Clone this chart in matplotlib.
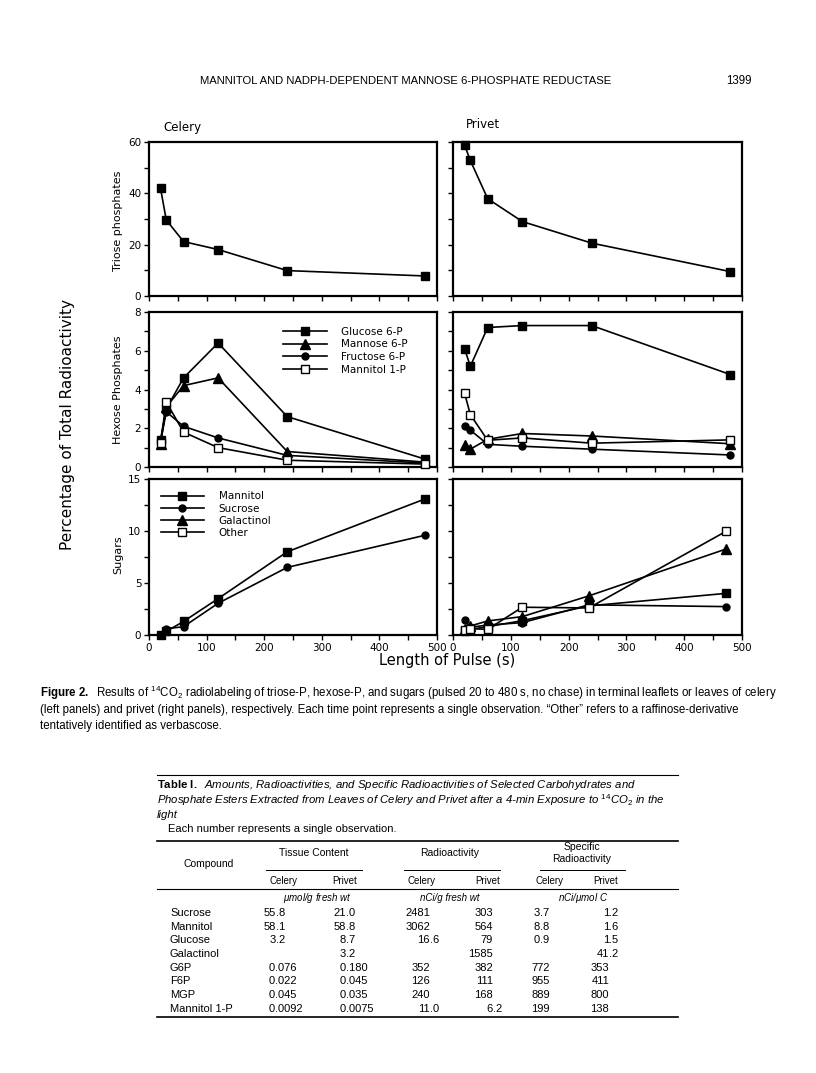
import matplotlib
matplotlib.use("Agg")
import matplotlib.pyplot as plt
from matplotlib.ticker import MultipleLocator
from matplotlib.lines import Line2D

plt.rcParams['font.family'] = ['DejaVu Sans']
plt.rcParams['mathtext.fontset'] = 'custom'
plt.rcParams['mathtext.rm'] = 'Liberation Sans'
plt.rcParams['mathtext.it'] = 'Liberation Sans:italic'
plt.rcParams['mathtext.bf'] = 'Liberation Sans:bold'

# ---- data ----
pulse = [20, 30, 60, 120, 240, 480]
pulse_privet_sugars = [20, 30, 60, 120, 235, 472]

celery_triose = [42.0, 29.6, 21.2, 18.1, 9.9, 7.8]
privet_triose = [58.8, 52.8, 37.9, 29.0, 20.6, 9.5]

celery_g6p = [1.4, 3.0, 4.6, 6.4, 2.6, 0.4]
celery_m6p = [1.2, 3.1, 4.2, 4.6, 0.8, 0.25]
celery_f6p = [1.3, 2.85, 2.1, 1.5, 0.6, 0.2]
celery_mtl1p = [1.25, 3.35, 1.8, 1.0, 0.35, 0.15]

privet_g6p = [6.1, 5.2, 7.2, 7.3, 7.3, 4.77]
privet_m6p = [1.15, 0.92, 1.43, 1.73, 1.6, 1.2]
privet_f6p = [2.1, 1.9, 1.17, 1.07, 0.92, 0.62]
privet_mtl1p = [3.82, 2.7, 1.38, 1.5, 1.23, 1.4]

celery_mannitol = [0.0, 0.35, 1.3, 3.5, 8.0, 13.1]
celery_sucrose = [0.0, 0.6, 0.8, 3.05, 6.5, 9.6]

privet_mannitol = [0.4, 0.55, 0.8, 1.38, 2.8, 4.0]
privet_sucrose = [1.45, 0.74, 0.96, 1.19, 2.9, 2.73]
privet_galactinol = [0.55, 0.87, 1.35, 1.77, 3.76, 8.26]
privet_other = [0.5, 0.6, 0.55, 2.67, 2.6, 9.96]

hexose_labels = ["Glucose 6-P", "Mannose 6-P", "Fructose 6-P", "Mannitol 1-P"]
sugar_labels = ["Mannitol", "Sucrose", "Galactinol", "Other"]

# table
compounds = ["Sucrose", "Mannitol", "Glucose", "Galactinol", "G6P", "F6P", "MGP", "Mannitol 1-P"]
tissue_celery = ["55.8", "58.1", "3.2", "", "0.076", "0.022", "0.045", "0.0092"]
tissue_privet = ["21.0", "58.8", "8.7", "3.2", "0.180", "0.045", "0.035", "0.0075"]
radio_celery = ["2481", "3062", "16.6", "", "352", "126", "240", "11.0"]
radio_privet = ["303", "564", "79", "1585", "382", "111", "168", "6.2"]
spec_celery = ["3.7", "8.8", "0.9", "", "772", "955", "889", "199"]
spec_privet = ["1.2", "1.6", "1.5", "41.2", "353", "411", "800", "138"]

W, H = 816, 1073
fig = plt.figure(figsize=(W / 100, H / 100), dpi=100)


def fx(x):
    return x / W


def fy(y):
    return 1 - y / H


def make_ax(x0, x1, y0, y1):
    return fig.add_axes([fx(x0), fy(y1), (x1 - x0) / W, (y1 - y0) / H])


sty = {
    's': dict(marker='s', ms=5.5, mfc='k'),
    '^': dict(marker='^', ms=6.5, mfc='k'),
    'o': dict(marker='o', ms=5.0, mfc='k'),
    'os': dict(marker='s', ms=5.5, mfc='white'),
}


def series(ax, x, y, key, z=3):
    ax.plot(x, y, color='k', lw=1.2, mec='k', mew=1.0, clip_on=False, zorder=z, **sty[key])


def setup(ax, ymax, major, minor, show_x, show_y):
    ax.set_xlim(0, 500)
    ax.set_ylim(0, ymax)
    ax.xaxis.set_major_locator(MultipleLocator(100))
    ax.xaxis.set_minor_locator(MultipleLocator(50))
    ax.yaxis.set_major_locator(MultipleLocator(major))
    ax.yaxis.set_minor_locator(MultipleLocator(minor))
    for s in ax.spines.values():
        s.set_linewidth(1.6)
    ax.tick_params(which='both', direction='out', length=3.5, width=1.0, labelsize=7.5,
                   labelbottom=show_x, labelleft=show_y, pad=2)


cols = [(149, 437), (453, 742)]
rows = [(142, 296), (312, 467), (479, 635)]

axL = [make_ax(cols[0][0], cols[0][1], r[0], r[1]) for r in rows]
axR = [make_ax(cols[1][0], cols[1][1], r[0], r[1]) for r in rows]

setup(axL[0], 60, 20, 10, False, True)
setup(axR[0], 60, 20, 10, False, False)
setup(axL[1], 8, 2, 1, False, True)
setup(axR[1], 8, 2, 1, False, False)
setup(axL[2], 15, 5, 2.5, True, True)
setup(axR[2], 15, 5, 2.5, True, False)

# triose
series(axL[0], pulse, celery_triose, 's')
series(axR[0], pulse, privet_triose, 's')

# hexose
series(axL[1], pulse, celery_g6p, 's')
series(axL[1], pulse, celery_m6p, '^')
series(axL[1], pulse, celery_f6p, 'o')
series(axL[1], pulse, celery_mtl1p, 'os', z=4)
series(axR[1], pulse, privet_g6p, 's')
series(axR[1], pulse, privet_m6p, '^')
series(axR[1], pulse, privet_f6p, 'o')
series(axR[1], pulse, privet_mtl1p, 'os', z=4)

# sugars
series(axL[2], pulse, celery_mannitol, 's')
series(axL[2], pulse, celery_sucrose, 'o')
series(axR[2], pulse_privet_sugars, privet_mannitol, 's')
series(axR[2], pulse_privet_sugars, privet_sucrose, 'o')
series(axR[2], pulse_privet_sugars, privet_galactinol, '^')
series(axR[2], pulse_privet_sugars, privet_other, 'os', z=4)


def handles(keys):
    return [Line2D([], [], color='k', lw=1.2, mec='k', mew=1.0, **sty[k]) for k in keys]


axL[1].legend(handles(['s', '^', 'o', 'os']), hexose_labels, loc='upper left',
              bbox_to_anchor=(0.465, 0.905), frameon=False, fontsize=7.5,
              handlelength=4.2, handletextpad=1.4, labelspacing=0.25,
              borderaxespad=0, borderpad=0)
axL[2].legend(handles(['s', 'o', '^', 'os']), sugar_labels, loc='upper left',
              bbox_to_anchor=(0.04, 0.92), frameon=False, fontsize=7.5,
              handlelength=4.2, handletextpad=1.4, labelspacing=0.2,
              borderaxespad=0, borderpad=0)

# panel texts
fig.text(fx(163), fy(127), "Celery", fontsize=8.5, va='center', ha='left')
fig.text(fx(466), fy(125), "Privet", fontsize=8.5, va='center', ha='left')
fig.text(fx(118), fy(221), "Triose phosphates", rotation=90, fontsize=8, ha='center', va='center')
fig.text(fx(118), fy(390), "Hexose Phosphates", rotation=90, fontsize=8, ha='center', va='center')
fig.text(fx(118), fy(555), "Sugars", rotation=90, fontsize=8, ha='center', va='center')
fig.text(fx(68), fy(425), "Percentage of Total Radioactivity", rotation=90, fontsize=11,
         ha='center', va='center')
fig.text(fx(447), fy(661), "Length of Pulse (s)", fontsize=10.5, ha='center', va='center')

# page header
sans = 'Liberation Sans'
fig.text(fx(200), fy(81), "MANNITOL AND NADPH-DEPENDENT MANNOSE 6-PHOSPHATE REDUCTASE",
         family=sans, fontsize=8.1, ha='left', va='center')
fig.text(fx(752), fy(81), "1399", family=sans, fontsize=8.3, ha='right', va='center')

# caption
cap = [
    r"$\mathbf{Figure\ 2.}$  Results of $^{14}$CO$_2$ radiolabeling of triose-P, hexose-P, and sugars "
    r"(pulsed 20 to 480 s, no chase) in terminal leaflets or leaves of celery",
    "(left panels) and privet (right panels), respectively. Each time point represents a single "
    "observation. \u201cOther\u201d refers to a raffinose-derivative",
    "tentatively identified as verbascose.",
]
for i, line in enumerate(cap):
    fig.text(fx(40), fy(693 + 16.5 * i), line, family=sans, fontsize=8.3, ha='left', va='center')

# table
tl, tr = 157, 678


def hrule(y, lw):
    fig.add_artist(Line2D([fx(tl), fx(tr)], [fy(y), fy(y)], color='k', lw=lw))


def seg(x0, x1, y, lw=0.7):
    fig.add_artist(Line2D([fx(x0), fx(x1)], [fy(y), fy(y)], color='k', lw=lw))


hrule(775, 0.8)
title = [
    r"$\mathbf{Table\ I.}$  Amounts, Radioactivities, and Specific Radioactivities of Selected "
    "Carbohydrates and",
    r"Phosphate Esters Extracted from Leaves of Celery and Privet after a 4-min Exposure to "
    r"$^{14}\mathit{CO}_\mathit{2}$ in the",
    "light",
]
for i, line in enumerate(title):
    fig.text(fx(157), fy(785.5 + 15 * i), line, family=sans, style='italic', fontsize=8.2,
             ha='left', va='center')
fig.text(fx(168), fy(829), "Each number represents a single observation.", family=sans,
         fontsize=8, ha='left', va='center')
hrule(841, 1.2)

fig.text(fx(209), fy(864), "Compound", family=sans, fontsize=7.5, ha='center', va='center')
fig.text(fx(314), fy(853), "Tissue Content", family=sans, fontsize=7.5, ha='center', va='center')
fig.text(fx(450), fy(853), "Radioactivity", family=sans, fontsize=7.5, ha='center', va='center')
fig.text(fx(582), fy(847), "Specific", family=sans, fontsize=7.5, ha='center', va='center')
fig.text(fx(582), fy(859), "Radioactivity", family=sans, fontsize=7.5, ha='center', va='center')
seg(266, 362, 870)
seg(404, 500, 870)
seg(540, 625, 870)
for xc, lab in zip([283, 345, 421, 488, 550, 606],
                   ["Celery", "Privet", "Celery", "Privet", "Celery", "Privet"]):
    fig.text(fx(xc), fy(881), lab, family=sans, fontsize=7, ha='center', va='center')
hrule(889, 0.8)
fig.text(fx(317), fy(898), r"$\mu$mol/g fresh wt", family=sans, style='italic', fontsize=7,
         ha='center', va='center')
fig.text(fx(450), fy(898), "nCi/g fresh wt", family=sans, style='italic', fontsize=7,
         ha='center', va='center')
fig.text(fx(583), fy(898), r"nCi/$\mu$mol C", family=sans, style='italic', fontsize=7,
         ha='center', va='center')


def dec(xa, y, s):
    if not s:
        return
    if '.' in s:
        a, b = s.split('.')
        fig.text(fx(xa), fy(y), a, family=sans, fontsize=8, ha='right', va='center')
        fig.text(fx(xa), fy(y), '.' + b, family=sans, fontsize=8, ha='left', va='center')
    else:
        fig.text(fx(xa), fy(y), s, family=sans, fontsize=8, ha='right', va='center')


row_y0, row_dy = 913, 13.7
for i, name in enumerate(compounds):
    y = row_y0 + row_dy * i
    fig.text(fx(170), fy(y), name, family=sans, fontsize=8, ha='left', va='center')
    dec(276 if i < 4 else 275, y, tissue_celery[i])
    dec(346, y, tissue_privet[i])
    dec(430, y, radio_celery[i])
    dec(493, y, radio_privet[i])
    dec(540 if i < 4 else 550, y, spec_celery[i])
    dec(609, y, spec_privet[i])
hrule(1017, 1.2)

fig.savefig("out.png", dpi=100)
